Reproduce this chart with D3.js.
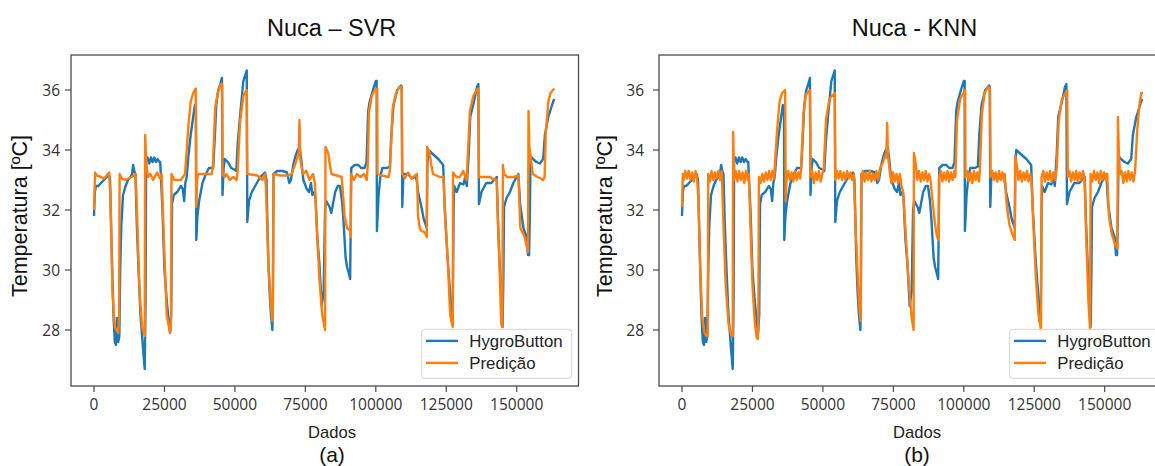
<!DOCTYPE html>
<html>
<head>
<meta charset="utf-8">
<script src="https://cdn.jsdelivr.net/npm/d3@7"></script>
<style>
  body { margin: 0; background: #fff; }
  svg { display: block; }
</style>
</head>
<body>
<svg id="chart" width="1155" height="466"></svg>
<script>
// ---- data ----
var xTicks = [0, 25000, 50000, 75000, 100000, 125000, 150000];
var yTicks = [28, 30, 32, 34, 36];
var seriesNames = ["HygroButton", "Predição"];
var panelTitles = ["Nuca – SVR", "Nuca - KNN"];
var panelTags = ["(a)", "(b)"];

// measured sensor (same in both panels): [sample, °C]
var hygroButton = [
  [0,31.8],[300,32.6],[700,32.8],[1500,32.8],[2500,32.9],[3500,33.0],[4500,33.1],[5200,33.2],[5700,33.0],
  [6200,31.0],[6600,29.5],[7000,28.3],[7400,27.6],[7800,27.5],[8200,28.4],[8600,27.6],[9000,27.8],
  [9300,30.0],[9700,31.5],[10300,32.5],[11200,32.8],[12100,33.0],[12900,33.1],[13500,33.2],[13900,33.5],
  [14300,33.3],[14700,33.2],[15200,31.5],[15800,30.0],[16500,28.5],[17300,27.5],[18000,26.7],[18300,29.0],
  [18500,33.6],[19000,33.75],[19600,33.55],[20200,33.75],[20800,33.6],[21400,33.75],[22000,33.6],[22600,33.7],[23200,33.6],
  [23500,33.6],[24300,32.0],[25000,30.0],[25800,29.0],[26500,28.3],[27000,27.9],[27400,28.5],[27700,32.2],
  [28300,32.5],[29500,32.6],[30800,32.8],[31500,32.7],[32000,32.3],[32400,32.9],[32900,33.1],[33500,33.8],
  [34300,34.5],[35200,35.1],[35800,35.5],[36200,35.4],[36300,31.0],[36700,31.8],[37300,32.3],[38500,32.9],
  [39700,33.2],[40800,33.4],[42300,33.4],[42800,34.3],[43400,35.5],[44100,36.0],[44800,36.2],[45400,36.4],
  [45600,32.5],[46000,33.4],[46400,33.7],[47500,33.6],[48700,33.4],[49800,33.35],[50500,33.3],[51000,34.2],
  [51800,35.1],[53000,36.3],[54200,36.65],[54400,31.6],[55000,32.3],[56000,32.6],[57800,32.9],[59000,33.1],
  [60700,33.25],[61200,33.0],[61800,30.5],[62300,29.3],[62800,28.5],[63300,28.0],[63500,29.5],[63700,33.2],
  [65000,33.3],[67000,33.3],[68500,33.25],[69300,32.9],[69900,33.0],[70700,33.5],[71500,33.8],[72300,34.0],
  [73000,34.1],[73500,33.7],[74300,33.0],[75500,32.7],[76300,32.6],[77000,32.9],[77500,32.5],[78300,32.6],
  [78600,32.4],[79300,31.0],[80000,30.2],[80800,28.8],[81500,29.3],[82000,32.0],[82400,32.3],[83600,32.1],
  [84200,31.9],[84800,32.2],[85600,32.6],[86500,32.8],[87300,32.8],[88000,32.3],[88500,31.7],[89300,30.4],
  [89800,30.1],[90400,29.9],[90900,29.7],[91100,31.5],[91300,33.4],[92500,33.5],[93800,33.5],[94800,33.4],
  [96000,33.4],[96700,33.6],[97300,35.3],[97800,35.6],[99000,36.0],[100000,36.3],[100300,36.3],[100400,31.3],
  [101000,32.5],[101600,33.1],[102300,33.4],[104000,33.4],[105000,33.45],[105500,34.5],[106300,35.5],
  [107600,36.0],[109000,36.15],[109200,36.1],[109400,32.1],[109800,33.2],[111500,33.2],[112700,33.05],
  [114000,33.1],[114500,33.0],[115000,32.6],[116200,32.1],[117000,31.7],[118100,31.4],[118300,33.5],
  [118600,34.0],[119800,33.9],[121000,33.8],[122200,33.7],[123900,33.5],[124500,32.0],[125400,30.5],
  [126300,29.3],[126900,28.3],[127300,28.2],[127600,32.0],[127800,32.8],[128700,32.6],[129900,32.9],
  [131100,32.85],[131700,33.1],[132300,32.8],[133000,33.9],[133500,35.1],[134800,35.6],[135900,36.1],
  [136400,36.2],[136600,32.2],[137500,32.6],[139200,32.9],[141000,32.9],[142900,33.1],[143400,31.5],
  [144000,30.1],[144500,29.4],[145000,28.1],[145300,30.0],[145500,32.1],[146400,32.4],[147600,32.6],
  [148800,32.9],[150000,33.1],[150600,33.2],[151200,32.2],[152400,31.4],[153500,31.1],[154000,30.5],
  [154400,30.5],[154700,32.0],[154900,33.8],[155800,33.7],[157000,33.6],[158200,33.55],[159400,33.7],
  [160000,34.5],[161200,35.1],[162900,35.6],[163300,35.7]
];

// SVR prediction
var predSVR = [
  [0,32.0],[400,33.25],[1000,33.15],[2500,33.1],[3500,33.05],[4500,33.15],[5400,33.25],[5800,32.5],
  [6600,29.2],[7400,28.1],[8600,27.9],[8900,28.5],[9100,33.2],[9900,33.05],[11000,33.0],[12200,33.05],
  [13400,33.1],[14800,33.2],[15300,31.8],[16200,29.2],[17100,28.1],[18000,27.8],[18150,34.5],[18600,33.5],
  [19200,33.1],[20000,33.2],[21000,33.0],[22400,33.25],[23400,33.05],[24000,33.2],[25000,30.5],[25800,28.5],
  [27000,27.9],[27300,28.3],[27500,33.2],[28500,33.0],[30800,33.0],[32300,33.2],[32600,33.6],[33500,34.8],
  [34300,35.6],[35200,35.9],[36100,36.05],[36250,32.1],[36600,33.0],[37000,33.2],[41800,33.2],[42200,33.5],
  [43000,35.4],[43900,35.9],[45000,36.2],[45500,36.2],[45600,33.2],[46400,33.1],[47000,33.2],[48200,33.0],
  [49400,33.1],[50600,33.0],[51000,33.3],[51800,34.9],[53000,35.8],[54200,36.0],[54350,33.2],[58000,33.15],
  [59800,33.0],[60700,33.2],[61000,32.8],[62000,30.0],[62800,28.8],[63300,28.3],[63500,29.0],[63700,33.2],
  [66000,33.15],[69000,33.15],[70100,33.2],[71300,33.5],[72300,33.8],[72700,33.85],[72900,35.0],[73200,33.7],
  [74100,33.2],[75300,33.3],[76500,33.0],[77700,33.2],[78400,32.9],[79000,31.5],[80000,29.7],[81000,28.5],
  [82000,28.0],[82150,34.1],[83100,33.9],[83700,33.5],[84300,33.2],[86100,33.15],[87900,33.1],[88300,32.6],
  [88900,31.8],[89800,31.4],[91000,31.3],[91100,31.1],[91200,33.2],[92200,33.0],[93300,33.2],[94600,33.1],
  [95800,33.2],[96800,33.0],[97200,33.6],[97600,35.3],[98600,35.8],[99700,36.0],[100500,36.05],[100600,33.2],
  [102000,33.15],[104500,33.1],[105000,33.3],[106000,35.4],[107200,35.9],[108300,36.1],[109200,36.1],
  [109400,33.2],[110300,33.05],[111500,33.25],[112700,33.05],[114000,33.15],[114600,33.2],[115000,31.8],
  [115600,31.4],[116200,31.3],[117400,31.25],[118100,31.1],[118200,34.1],[119100,33.9],[119700,33.5],
  [120300,33.2],[121500,33.15],[122700,33.1],[124000,33.1],[124600,31.8],[125600,30.2],[126400,28.5],
  [127300,28.1],[127400,33.25],[128600,33.1],[129800,33.1],[131000,33.3],[132200,33.0],[132500,33.5],
  [133400,35.3],[134600,35.8],[135800,36.0],[136400,36.05],[136600,33.1],[140600,33.1],[141200,33.05],
  [142900,33.0],[143400,31.5],[144100,29.5],[144500,28.2],[144900,28.1],[145100,33.5],[145500,33.2],
  [146700,33.1],[149000,33.1],[150600,33.15],[151300,31.4],[152800,31.1],[154000,30.6],[154200,35.3],
  [154500,34.1],[155700,33.2],[157400,33.1],[158500,33.05],[159400,33.0],[159900,33.1],[160300,34.5],
  [161200,35.6],[162000,35.9],[163300,36.05]
];

// KNN prediction (noisy plateaus)
var predKNN = [
  [0,32.1],[300,33.2],[600,33.0],[1200,33.3],[1800,33.05],[2400,33.3],[3000,33.0],[3600,33.25],[4200,32.95],
  [4800,33.3],[5300,33.1],[5800,32.4],[6500,30.0],[7200,28.4],[8000,27.9],[8600,27.8],[9100,27.8],[9200,28.4],
  [9300,33.2],[9900,32.95],[10500,33.3],[11100,33.0],[11700,33.25],[12300,33.05],[12900,33.3],[13500,33.0],
  [14100,33.3],[14600,31.8],[15500,29.5],[16500,28.2],[17600,27.8],[18000,27.8],[18150,34.6],[18500,33.0],
  [19100,33.3],[19700,32.95],[20300,33.3],[20900,33.0],[21500,33.25],[22100,32.9],[22700,33.3],[23300,33.0],
  [23700,33.2],[24300,31.5],[25000,29.5],[25800,28.3],[26500,27.75],[26900,27.7],[27100,28.2],[27300,33.1],
  [27900,32.9],[28500,33.2],[29100,32.95],[29700,33.25],[30300,33.0],[30900,33.3],[31500,33.0],[32100,33.3],
  [32700,33.05],[32900,33.4],[33700,34.6],[34600,35.6],[35500,35.9],[36600,36.0],[36800,32.3],[37100,33.0],
  [37700,33.3],[38300,33.0],[38900,33.25],[39500,32.95],[40100,33.3],[40700,33.0],[41300,33.25],[41900,33.05],
  [42300,33.4],[43100,35.2],[44000,35.85],[45400,36.0],[45600,33.1],[46200,33.3],[46800,32.9],[47400,33.25],
  [48000,33.0],[48600,33.3],[49200,32.95],[49800,33.2],[50300,33.4],[51100,35.0],[52300,35.7],[54200,35.9],
  [54400,33.0],[55000,33.3],[55600,33.05],[56200,33.3],[56800,33.0],[57400,33.25],[58000,33.0],[58600,33.3],
  [59200,33.05],[59800,33.25],[60400,33.0],[61000,33.2],[61600,31.5],[62400,29.7],[63000,28.7],[63400,28.3],
  [63600,33.1],[64200,33.3],[64800,32.95],[65400,33.25],[66000,33.0],[66600,33.3],[67200,32.95],[67800,33.2],
  [68400,33.0],[69000,33.3],[69600,33.0],[70200,33.35],[70800,33.5],[71400,33.6],[72000,33.8],[72500,33.75],
  [72800,34.9],[73100,33.8],[73700,33.3],[74300,32.9],[74900,33.25],[75500,32.95],[76100,33.2],[76700,32.9],
  [77300,33.2],[77900,32.8],[78500,32.6],[79500,31.0],[80500,29.5],[81500,28.4],[82200,28.0],[82300,33.9],
  [83000,33.5],[83500,33.0],[84100,33.3],[84700,32.95],[85300,33.25],[85900,33.0],[86500,33.3],[87100,32.95],
  [87700,33.2],[88200,33.0],[88800,32.4],[89700,31.6],[90500,31.1],[91100,31.0],[91200,33.1],[91800,33.3],
  [92400,32.95],[93000,33.25],[93600,33.0],[94200,33.3],[94800,32.95],[95400,33.25],[96000,33.0],[96600,33.3],
  [97000,33.1],[97600,35.0],[98700,35.7],[100500,36.0],[100600,33.1],[101200,33.3],[101800,32.95],
  [102400,33.25],[103000,32.9],[103600,33.3],[104200,33.0],[104800,33.25],[105400,32.95],[105700,33.3],
  [106400,35.2],[107400,35.9],[108600,36.1],[109300,36.05],[109500,33.1],[110100,33.3],[110700,33.0],
  [111300,33.25],[111900,32.95],[112500,33.3],[113100,33.0],[113700,33.25],[114300,32.95],[114500,33.2],
  [115200,32.2],[116200,31.5],[117200,31.2],[118100,31.0],[118200,33.8],[118800,33.5],[119400,33.0],
  [120000,33.3],[120600,32.95],[121200,33.25],[121800,33.0],[122400,33.3],[123000,32.95],[123600,33.2],
  [124000,33.0],[124700,31.5],[125600,29.7],[126500,28.5],[127400,28.0],[127600,33.1],[128200,33.3],
  [128800,32.95],[129400,33.25],[130000,33.0],[130600,33.3],[131200,32.95],[131800,33.25],[132400,33.0],
  [133000,33.4],[133700,35.0],[134800,35.7],[136700,36.0],[136900,33.1],[137500,33.3],[138100,32.95],
  [138700,33.25],[139300,33.0],[139900,33.3],[140500,32.95],[141100,33.25],[141700,33.0],[142300,33.3],
  [142800,33.1],[143500,31.0],[144200,29.0],[144800,28.0],[145000,33.2],[145600,32.95],[146200,33.3],
  [146800,33.0],[147400,33.25],[148000,32.9],[148600,33.3],[149200,33.0],[149800,33.25],[150400,33.0],
  [150900,33.2],[151500,31.8],[152500,31.2],[153500,30.9],[154500,30.7],[154700,35.1],[155000,34.0],
  [155400,33.2],[156000,33.3],[156600,32.9],[157200,33.25],[157800,32.95],[158400,33.3],[159000,33.0],
  [159600,33.25],[160200,32.95],[160800,33.3],[161500,34.6],[162300,35.5],[163000,35.9],[163600,35.9]
];

// ---- layout ----
var colors = ["#1f77b4", "#ff7f0e"];
var xDomain = [-8160, 171930];
var yDomain = [26.133, 37.167];
var plotTop = 55, plotBottom = 386;

var panels = [
  { left: 71,  right: 578.5, titleX: 331.7, labelX: 332, yLabelX: 27,  tickPad: 11, pred: predSVR },
  { left: 659, right: 1166.5, titleX: 914.5, labelX: 917, yLabelX: 612, tickPad: 15, pred: predKNN }
];

var svg = d3.select("#chart");

panels.forEach(function(p, i) {
  var x = d3.scaleLinear().domain(xDomain).range([p.left, p.right]);
  var y = d3.scaleLinear().domain(yDomain).range([plotBottom, plotTop]);
  var g = svg.append("g");

  // lines
  var line = d3.line().x(d => x(d[0])).y(d => y(d[1]));
  [hygroButton, p.pred].forEach(function(data, k) {
    g.append("path")
      .datum(data)
      .attr("d", line)
      .attr("fill", "none")
      .attr("stroke", colors[k])
      .attr("stroke-width", 2.4)
      .attr("stroke-linejoin", "round");
  });

  // frame
  g.append("rect")
    .attr("x", p.left).attr("y", plotTop)
    .attr("width", p.right - p.left).attr("height", plotBottom - plotTop)
    .attr("fill", "none").attr("stroke", "#4a4a4a").attr("stroke-width", 1.3);

  // x ticks
  var xt = g.selectAll(".xt").data(xTicks).enter().append("g")
    .attr("transform", d => "translate(" + x(d) + ",0)");
  xt.append("line").attr("y1", plotBottom).attr("y2", plotBottom + 6)
    .attr("stroke", "#4a4a4a").attr("stroke-width", 1.2);
  xt.append("text").attr("y", 410).attr("text-anchor", "middle")
    .attr("font-family", "Open Sans, sans-serif").attr("font-size", 15.5)
    .attr("fill", "#333").text(d => d);

  // y ticks
  var yt = g.selectAll(".yt").data(yTicks).enter().append("g")
    .attr("transform", d => "translate(0," + y(d) + ")");
  yt.append("line").attr("x1", p.left - 6).attr("x2", p.left)
    .attr("stroke", "#4a4a4a").attr("stroke-width", 1.2);
  yt.append("text").attr("x", p.left - p.tickPad).attr("dy", "0.36em")
    .attr("text-anchor", "end")
    .attr("font-family", "Open Sans, sans-serif").attr("font-size", 15.5)
    .attr("fill", "#333").text(d => d);

  // titles and labels
  var font = "Liberation Sans, Arial, sans-serif";
  g.append("text").attr("x", p.titleX).attr("y", 36).attr("text-anchor", "middle")
    .attr("font-family", font).attr("font-size", 23.5).attr("fill", "#111")
    .text(panelTitles[i]);
  g.append("text").attr("transform", "translate(" + p.yLabelX + ",216) rotate(-90)")
    .attr("text-anchor", "middle").attr("font-family", font).attr("font-size", 21.5)
    .attr("fill", "#111").text("Temperatura [ºC]");
  g.append("text").attr("x", p.labelX).attr("y", 438).attr("text-anchor", "middle")
    .attr("font-family", font).attr("font-size", 16.6).attr("fill", "#222").text("Dados");
  g.append("text").attr("x", p.labelX).attr("y", 461.5).attr("text-anchor", "middle")
    .attr("font-family", font).attr("font-size", 21).attr("fill", "#111").text(panelTags[i]);

  // legend
  var lx = p.right - 156.8, ly = 329.3;
  var leg = g.append("g");
  leg.append("rect").attr("x", lx).attr("y", ly).attr("width", 150).attr("height", 49)
    .attr("rx", 3).attr("fill", "#fff").attr("fill-opacity", 0.85)
    .attr("stroke", "#d4d4d4").attr("stroke-width", 1);
  seriesNames.forEach(function(name, k) {
    var cy = ly + 11.6 + k * 22;
    leg.append("line").attr("x1", lx + 4.3).attr("x2", lx + 36.3)
      .attr("y1", cy).attr("y2", cy)
      .attr("stroke", colors[k]).attr("stroke-width", 2.4);
    leg.append("text").attr("x", lx + 47.6).attr("y", cy + 6.5)
      .attr("font-family", font).attr("font-size", 16.8).attr("fill", "#222")
      .text(name);
  });
});
</script>
</body>
</html>
